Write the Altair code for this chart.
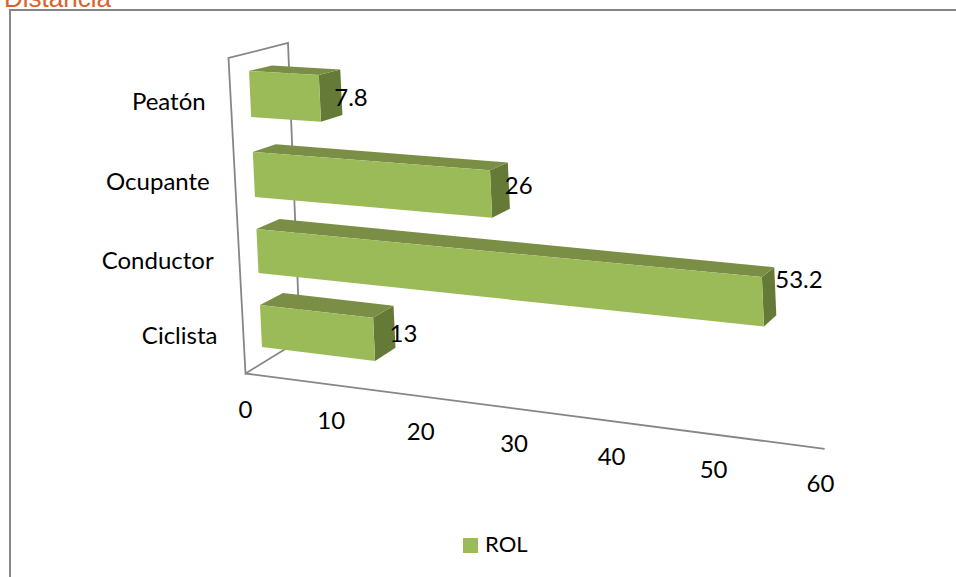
import altair as alt
import pandas as pd

# Chart content
categories = ["Ciclista", "Conductor", "Ocupante", "Peatón"]
rol_values = [13, 53.2, 26, 7.8]
tick_values = [0, 10, 20, 30, 40, 50, 60]
series_name = "ROL"
chart_title = "Distancia"

# Canvas and text styling
W, H = 956, 577
FONT = "Lato"
FONT_SIZE = 24
INK = "#000000"
GREY = "#868686"
FRONT, TOP, SIDE = "#9BBB59", "#7A8F45", "#667A38"

# Vertical extent of each bar's front face where it meets the value-zero plane
row_top = [305, 229, 152, 71]
row_bottom = [347, 273, 197, 117]
# Per-row horizontal stretch of the perspective
row_stretch = [1.0, 1.0, 1.02, 1.04]
# Nudges that keep value labels clear of the bar ends
label_nudge = [(-4, 8), (1, -10), (-3, 1), (-6, 7)]
# Vertical placement of the category names relative to each row's centre
category_drop = [10.5, 10.5, 8.5, 8.5]


def reach(v, stretch=1.0):
    """Horizontal run of value v, stretched towards the viewer."""
    return stretch * 8.47 * v / (1 - 0.00204 * v)


def slope(y):
    return 0.040 + 0.000241 * y


def project(v, y0, depth, stretch=1.0):
    """Oblique perspective: value v, height y0 on the zero plane, depth 0..1."""
    run = reach(v, stretch)
    x = 249 + 0.047 * (y0 - 71) + run + depth * (23 - 0.2 * v)
    y = y0 + slope(y0) * run - depth * (3.5 + 0.028 * y0)
    return x, y


def axis_point(v):
    run = reach(v)
    return 245.5 + run, 373.5 + slope(374) * run


# Bar faces as closed outlines
faces = []
for cat, v, top, bottom, s in zip(categories, rol_values, row_top, row_bottom, row_stretch):
    outlines = {
        "side": [(v, top, 0), (v, top, 1), (v, bottom, 1), (v, bottom, 0)],
        "top": [(0, top, 0), (0, top, 1), (v, top, 1), (v, top, 0)],
        "front": [(0, top, 0), (v, top, 0), (v, bottom, 0), (0, bottom, 0)],
    }
    for face, corners in outlines.items():
        for i, c in enumerate(corners + corners[:1]):
            px, py = project(*c, s)
            faces.append({"bar": cat, "face": face, "i": i, "px": px, "py": py})
faces = pd.DataFrame(faces)

# Plot box: back wall, side wall and floor edges
o = axis_point(0)
end = axis_point(60)
walls = pd.DataFrame(
    [
        {"seg": "box", "i": 0, "px": 300, "py": 340},
        {"seg": "box", "i": 1, "px": o[0], "py": o[1]},
        {"seg": "box", "i": 2, "px": 228.5, "py": 58},
        {"seg": "box", "i": 3, "px": 288, "py": 43},
        {"seg": "box", "i": 4, "px": 300, "py": 340},
        {"seg": "floor", "i": 0, "px": o[0], "py": o[1]},
        {"seg": "floor", "i": 1, "px": end[0], "py": end[1]},
    ]
)

# Chart frame, running off the right and bottom of the canvas
frame = pd.DataFrame(
    [
        {"i": 0, "px": 10, "py": 577},
        {"i": 1, "px": 10, "py": 10},
        {"i": 2, "px": 956, "py": 10},
    ]
)

value_labels = pd.DataFrame(
    {
        "text": [f"{v:g}" for v in rol_values],
        "px": [
            project(v, t, 1, s)[0] + n[0]
            for v, t, s, n in zip(rol_values, row_top, row_stretch, label_nudge)
        ],
        "py": [
            (project(v, t, 1, s)[1] + project(v, b, 1, s)[1]) / 2 + n[1]
            for v, t, b, s, n in zip(rol_values, row_top, row_bottom, row_stretch, label_nudge)
        ],
    }
)

category_labels = pd.DataFrame(
    {
        "text": categories,
        "px": [206 + 0.051 * ((t + b) / 2 - 101) for t, b in zip(row_top, row_bottom)],
        "py": [(t + b) / 2 + d for t, b, d in zip(row_top, row_bottom, category_drop)],
    }
)

tick_labels = pd.DataFrame(
    {
        "text": [str(t) for t in tick_values],
        "px": [axis_point(t)[0] - t * 0.07 for t in tick_values],
        "py": [axis_point(t)[1] + 37 - t * 0.02 for t in tick_values],
    }
)

X = alt.X("px:Q", axis=None, scale=alt.Scale(domain=[0, W], range=[0, W], nice=False, zero=False))
Y = alt.Y("py:Q", axis=None, scale=alt.Scale(domain=[0, H], range=[0, H], nice=False, zero=False))

frame_layer = (
    alt.Chart(frame)
    .mark_line(color=GREY, strokeWidth=2)
    .encode(x=X, y=Y, order="i:Q")
)

wall_layer = (
    alt.Chart(walls)
    .mark_line(color=GREY, strokeWidth=1.8)
    .encode(x=X, y=Y, detail="seg:N", order="i:Q")
)

bar_layer = (
    alt.Chart(faces)
    .mark_line(filled=True)
    .encode(
        x=X,
        y=Y,
        detail="bar:N",
        order="i:Q",
        color=alt.Color(
            "face:N",
            legend=None,
            scale=alt.Scale(domain=["front", "top", "side"], range=[FRONT, TOP, SIDE]),
        ),
    )
)


def text_layer(df, align, size=FONT_SIZE):
    return (
        alt.Chart(df)
        .mark_text(align=align, baseline="middle", font=FONT, fontSize=size, color=INK)
        .encode(x=X, y=Y, text="text:N")
    )


title_layer = (
    alt.Chart(pd.DataFrame({"text": [chart_title], "px": [4], "py": [7]}))
    .mark_text(align="left", baseline="alphabetic", font="Liberation Sans", fontSize=26, color="#D9622B")
    .encode(x=X, y=Y, text="text:N")
)

legend_swatch = (
    alt.Chart(pd.DataFrame({"px": [470.5], "py": [545.5]}))
    .mark_square(size=225, color=FRONT, opacity=1)
    .encode(x=X, y=Y)
)
legend_text = text_layer(pd.DataFrame({"text": [series_name], "px": [485], "py": [545]}), "left", 22)

chart = (
    alt.layer(
        frame_layer,
        wall_layer,
        bar_layer,
        text_layer(value_labels, "left"),
        text_layer(category_labels, "right"),
        text_layer(tick_labels, "center"),
        title_layer,
        legend_swatch,
        legend_text,
    )
    .properties(
        width=W,
        height=H,
        padding=0,
        background="white",
        autosize=alt.AutoSizeParams(type="none"),
    )
    .configure_view(stroke=None)
)

chart.save("out.html", embed_options={"renderer": "svg", "actions": False})
